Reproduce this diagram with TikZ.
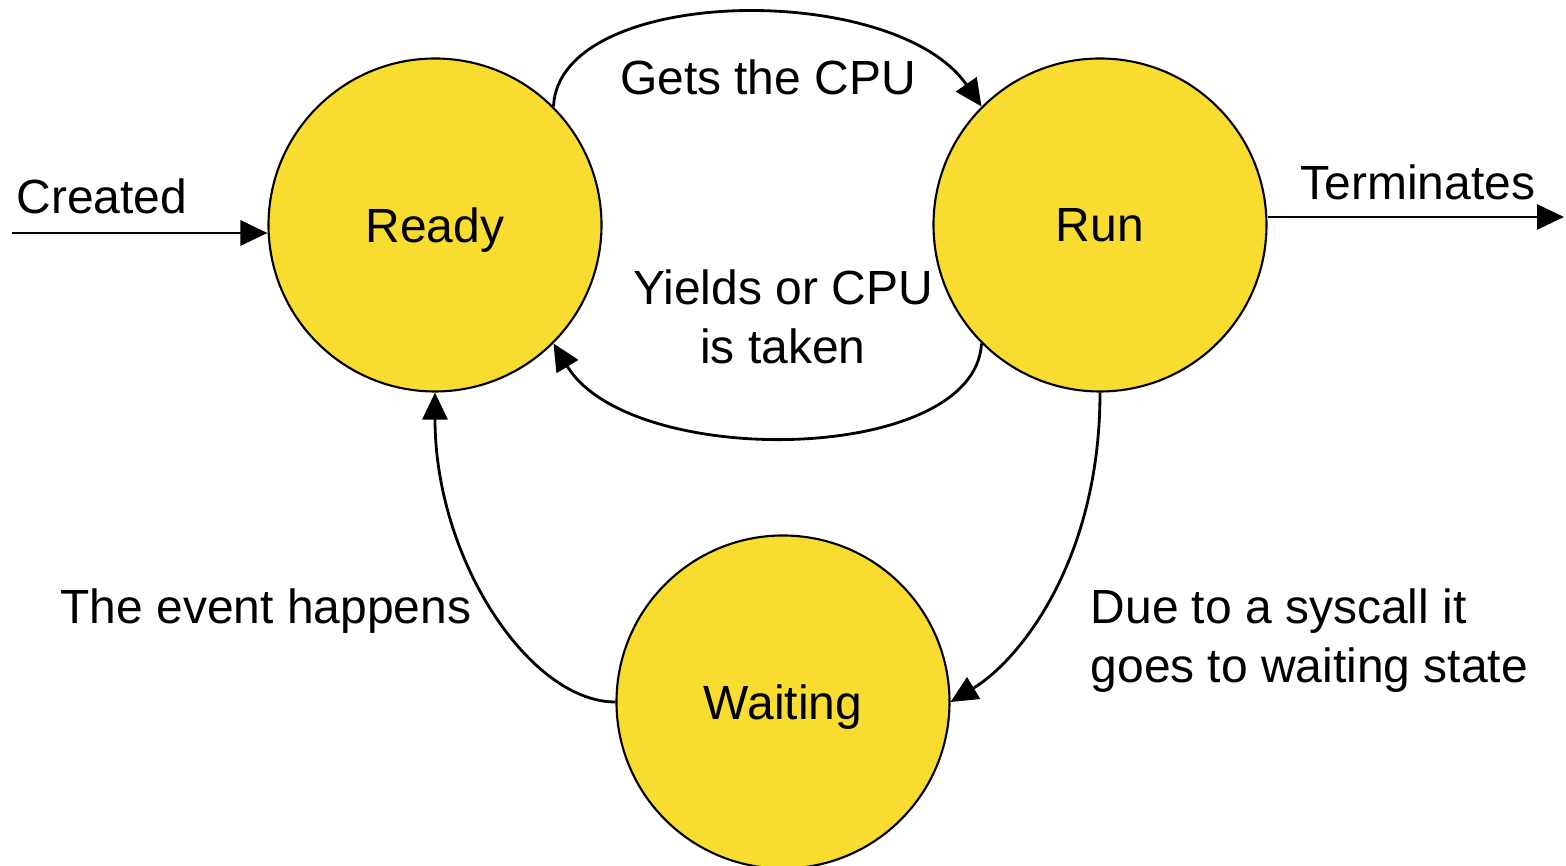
\documentclass[tikz,border=0pt]{standalone}
\usepackage{fontspec}
\setmainfont{Liberation Sans}
\usetikzlibrary{arrows.meta}
\definecolor{stateyellow}{RGB}{248,220,48}
\tikzset{
  state/.style={circle, draw=black, line width=0.6pt, fill=stateyellow, minimum size=3.33cm, inner sep=0pt, text depth=0pt},
  conn/.style={line width=0.8pt, -{Triangle[length=0.27cm,width=0.25cm]}},
  lbl/.style={inner sep=0pt}
}
\begin{document}
\begin{tikzpicture}[font=\fontsize{13.65}{16.7}\selectfont]
\useasboundingbox (0,0) rectangle (15.66,8.66);
\node[state] (ready) at (4.35,6.41) {Ready};
\node[state] (run) at (11.00,6.41) {Run};
\node[state] (waiting) at (7.83,1.64) {Waiting};
\coordinate (cin) at (0.12,6.33);
\coordinate (tout) at (15.64,6.49);
\draw[conn] (cin) -- (cin -| ready.west);
\draw[conn] (run.east |- tout) -- (tout);
\draw[conn] (ready.45) .. controls (5.59,8.81) and (8.94,8.86) .. (run.135);
\draw[conn] (run.225) .. controls (9.75,4.01) and (6.30,3.96) .. (ready.315);
\draw[conn] (run.south) .. controls (11.00,3.06) and (10.20,2.06) .. (waiting.east);
\draw[conn] (waiting.west) .. controls (5.30,1.64) and (4.35,3.06) .. (ready.south);
\node[lbl, anchor=base west] (lcreated) at (0.16,6.52) {Created};
\node[lbl, anchor=base] (lgets) at (7.68,7.71) {Gets the CPU};
\node[lbl, anchor=base] (lterm) at (14.18,6.66) {Terminates};
\node[lbl, anchor=north, align=center] (lyield) at (7.83,5.97) {Yields or CPU\\is taken};
\node[lbl, anchor=north west, align=left] (lsys) at (10.90,2.78) {Due to a syscall it\\goes to waiting state};
\node[lbl, anchor=base] (levent) at (2.66,2.42) {The event happens};
\end{tikzpicture}
\end{document}
